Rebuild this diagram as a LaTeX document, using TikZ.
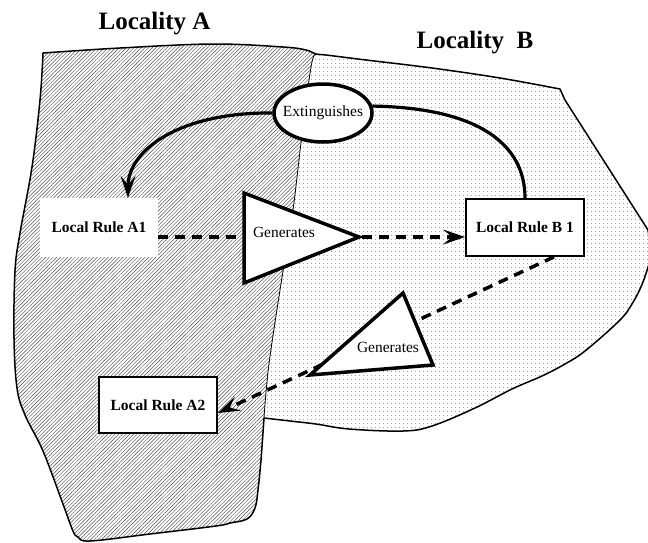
\documentclass[tikz,border=0pt]{standalone}
\usepackage{fontspec}
\setmainfont{Liberation Serif}
\usetikzlibrary{shapes.geometric,arrows.meta,patterns.meta,calc}
\begin{document}
\begin{tikzpicture}[x=1pt,y=-1pt,
  outline/.style={line width=1.5pt, line join=round},
  divider/.style={line width=0.8pt},
  hatchA/.style={pattern={Lines[angle=45,distance=2.6pt,line width=0.45pt]}, pattern color=black!70},
  dotsB/.style={pattern={Dots[distance=4pt,radius=0.55pt]}, pattern color=black!65},
  rulebox/.style={draw, fill=white, line width=1.8pt, inner sep=0pt, font=\fontsize{15.5}{17}\selectfont\bfseries},
  plainbox/.style={fill=white, inner sep=0pt, font=\fontsize{15.5}{17}\selectfont\bfseries},
  tri/.style={draw, fill=white, line width=3.5pt, line join=miter},
  lbl/.style={inner sep=0pt, font=\fontsize{15.5}{17}\selectfont},
  titlelbl/.style={inner sep=0pt, anchor=base, font=\fontsize{25}{28}\selectfont\bfseries},
  oval/.style={ellipse, draw, fill=white, line width=3.5pt, inner xsep=-6pt, inner ysep=0pt, minimum width=98pt, minimum height=58pt, font=\fontsize{15.5}{17}\selectfont},
  headtip/.style={-{Stealth[length=22pt,width=15pt,inset=9pt]}},
  dashedarrow/.style={headtip, line width=3.5pt, dash pattern=on 10pt off 7pt},
  solidarc/.style={line width=3.2pt}
]
\useasboundingbox (0,0) rectangle (648,542);

% ---------- Region A (hatched)
\fill[hatchA]
  plot[smooth, tension=0.6] coordinates {(316,54) (311,67) (301,143) (293,210) (283,271) (269,364) (264,418)}
  -- plot[smooth, tension=0.6] coordinates {(264,418) (261,460) (258,490) (255,508) (247,519) (230,523) (216,526) (150,534) (90,541) (78,537) (73,531) (63,504) (43,451) (25,415) (17,388) (14,338) (15,271) (20,233) (32,167) (40,100) (43,53)}
  -- plot[smooth, tension=0.6] coordinates {(43,53) (120,48) (213,44) (283,47) (306,50) (316,54)} -- cycle;

% ---------- Region B (dotted)
\fill[dotsB]
  plot[smooth, tension=0.6] coordinates {(316,54) (311,67) (301,143) (293,210) (283,271) (269,364) (264,418)}
  -- plot[smooth, tension=0.6] coordinates {(264,418) (290,421) (316,424) (349,429) (403,431) (432,426) (475,408) (512,389) (542,376) (565,364) (585,351) (619,321) (632,304) (643,282) (652,254)}
  -- (648,230) -- (565,100) -- (560,89)
  -- plot[smooth, tension=0.6] coordinates {(560,89) (500,78) (432,68) (366,60) (326,55) (316,54)} -- cycle;

% ---------- outer outline
\draw[outline]
  plot[smooth, tension=0.6] coordinates {(264,418) (290,421) (316,424) (349,429) (403,431) (432,426) (475,408) (512,389) (542,376) (565,364) (585,351) (619,321) (632,304) (643,282) (652,254)}
  -- (648,230) -- (565,100) -- (560,89)
  -- plot[smooth, tension=0.6] coordinates {(560,89) (500,78) (432,68) (366,60) (326,55) (316,54) (306,50) (283,47) (213,44) (120,48) (43,53)}
  -- plot[smooth, tension=0.6] coordinates {(43,53) (40,100) (32,167) (20,233) (15,271) (14,338) (17,388) (25,415) (43,451) (63,504) (73,531) (78,537) (90,541) (150,534) (216,526) (230,523) (247,519) (255,508) (258,490) (261,460) (264,418)};

% ---------- divider between the localities
\draw[divider]
  plot[smooth, tension=0.6] coordinates {(316,54) (311,67) (301,143) (293,210) (283,271) (269,364) (264,418)};

% ---------- titles
\node[titlelbl] (LA) at (154.5,29.5) {Locality A};
\node[titlelbl] (LB) at (475,48) {Locality\ \ B};

% ---------- rule boxes
\node[plainbox, minimum width=118pt, minimum height=59pt] (A1) at (99,227.5) {Local Rule A1};
\node[rulebox, minimum width=118pt, minimum height=57pt] (B1) at (525,227.5) {Local Rule B 1};
\node[rulebox, minimum width=118pt, minimum height=56pt] (A2) at (158,405) {Local Rule A2};

% ---------- dashed connectors
\draw[dashedarrow] ([yshift=-9.5pt]A1.east) -- ([yshift=-9.5pt]B1.west);
\draw[dashedarrow] ([xshift=29pt]B1.south) -- ([yshift=-8pt]A2.east);

% ---------- "Generates" triangles
\coordinate (T1a) at (244,193);
\coordinate (T1b) at (244,283);
\coordinate (T1c) at (359,237);
\draw[tri] (T1a) -- (T1b) -- (T1c) -- cycle;
\node[lbl] (G1) at (284,232) {Generates};

\coordinate (T2a) at (403,293);
\coordinate (T2b) at (310,375);
\coordinate (T2c) at (433,365);
\draw[tri] (T2a) -- (T2b) -- (T2c) -- cycle;
\node[lbl] (G2) at (388,347) {Generates};

% ---------- Extinguishes
\node[oval] (E) at (323,113) {Extinguishes};
\draw[solidarc] (B1.north) .. controls (525,145) and (480,108) .. (E.8);
\draw[solidarc, headtip] (E.west) .. controls (180,112) and (128,150) .. ([xshift=29pt]A1.north);
\end{tikzpicture}
\end{document}
